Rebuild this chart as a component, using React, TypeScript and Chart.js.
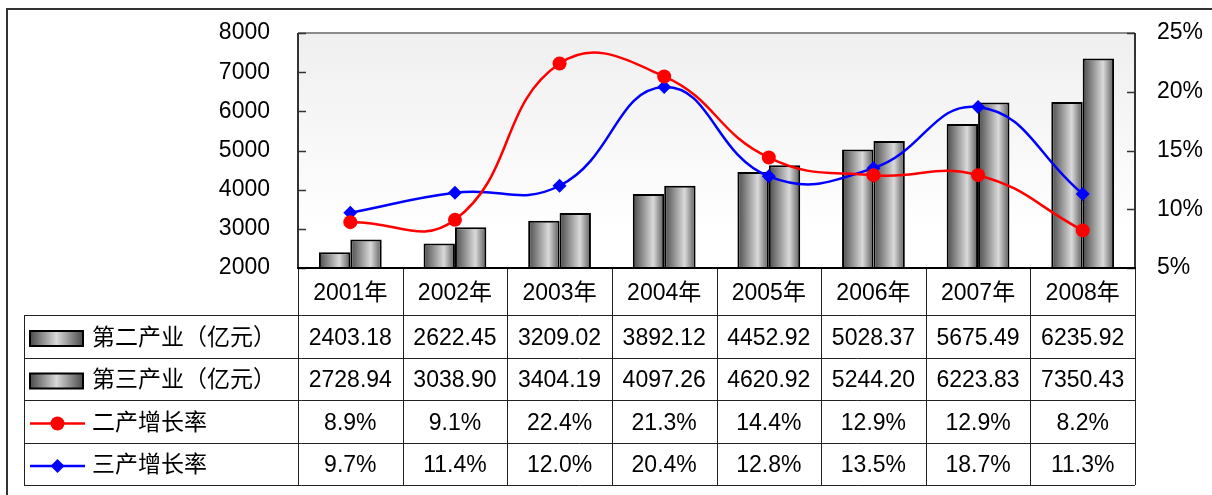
import React, { useEffect, useRef } from "react";
import { Chart, registerables } from "chart.js";

Chart.register(...registerables);

const years = ["2001年", "2002年", "2003年", "2004年", "2005年", "2006年", "2007年", "2008年"];
const secondIndustry = [2403.18, 2622.45, 3209.02, 3892.12, 4452.92, 5028.37, 5675.49, 6235.92];
const thirdIndustry = [2728.94, 3038.9, 3404.19, 4097.26, 4620.92, 5244.2, 6223.83, 7350.43];
const secondGrowth = [8.9, 9.1, 22.4, 21.3, 14.4, 12.9, 12.9, 8.2];
const thirdGrowth = [9.7, 11.4, 12.0, 20.4, 12.8, 13.5, 18.7, 11.3];
const leftTicks = [2000, 3000, 4000, 5000, 6000, 7000, 8000];
const rightTicks = [5, 10, 15, 20, 25];
const seriesNames = ["第二产业（亿元）", "第三产业（亿元）", "二产增长率", "三产增长率"];

const FONT = '"Liberation Sans", Arial, "Noto Sans CJK SC", sans-serif';
const CAT_PCT = 0.6;
const ROW_LINES = [268, 315, 358, 400, 443, 485];
const TABLE_LEFT = 24;

function barGradient(ctx: any) {
  const chart = ctx.chart;
  const area = chart.chartArea;
  if (!area || ctx.type !== "data" || !chart.scales.x) return "#999999";
  const center = chart.scales.x.getPixelForValue(ctx.dataIndex);
  const catW = (area.right - area.left) / years.length;
  const bw = (catW * CAT_PCT) / 2;
  const left = ctx.datasetIndex === 0 ? center - bw : center;
  const g = chart.ctx.createLinearGradient(left, 0, left + bw, 0);
  g.addColorStop(0, "#4a4a4a");
  g.addColorStop(0.65, "#dadada");
  g.addColorStop(1, "#5a5a5a");
  return g;
}

const bgPlugin = {
  id: "plotBg",
  beforeDatasetsDraw(chart: any) {
    const { ctx, chartArea: a } = chart;
    ctx.save();
    const g = ctx.createLinearGradient(0, a.top, 0, a.bottom);
    g.addColorStop(0, "#efefef");
    g.addColorStop(0.85, "#ffffff");
    g.addColorStop(1, "#ffffff");
    ctx.fillStyle = g;
    ctx.fillRect(a.left, a.top, a.right - a.left, a.bottom - a.top);
    ctx.restore();
  },
};

function drawBarSymbol(ctx: CanvasRenderingContext2D, x: number, y: number) {
  const w = 53;
  const h = 15;
  const g = ctx.createLinearGradient(x, 0, x + w, 0);
  g.addColorStop(0, "#4a4a4a");
  g.addColorStop(0.5, "#d8d8d8");
  g.addColorStop(1, "#4a4a4a");
  ctx.fillStyle = g;
  ctx.fillRect(x, y - h / 2, w, h);
  ctx.strokeStyle = "#000";
  ctx.lineWidth = 2;
  ctx.strokeRect(x, y - h / 2, w, h);
}

function drawLineSymbol(ctx: CanvasRenderingContext2D, x: number, y: number, color: string, diamond: boolean) {
  ctx.strokeStyle = color;
  ctx.lineWidth = 2.5;
  ctx.beginPath();
  ctx.moveTo(x, y);
  ctx.lineTo(x + 55, y);
  ctx.stroke();
  ctx.fillStyle = color;
  const cx = x + 27.5;
  ctx.beginPath();
  if (diamond) {
    ctx.moveTo(cx, y - 7);
    ctx.lineTo(cx + 7, y);
    ctx.lineTo(cx, y + 7);
    ctx.lineTo(cx - 7, y);
    ctx.closePath();
  } else {
    ctx.arc(cx, y, 7, 0, Math.PI * 2);
  }
  ctx.fill();
}

const tablePlugin = {
  id: "dataTable",
  afterDraw(chart: any) {
    const { ctx, chartArea: a } = chart;
    const xs = chart.scales.x;
    const yl = chart.scales.y;
    const yr = chart.scales.y1;
    const n = years.length;
    const catW = (a.right - a.left) / n;
    ctx.save();

    // plot frame
    ctx.strokeStyle = "#8c8c8c";
    ctx.lineWidth = 2;
    ctx.beginPath();
    ctx.moveTo(a.left, a.top);
    ctx.lineTo(a.right, a.top);
    ctx.stroke();
    ctx.strokeStyle = "#333";
    ctx.beginPath();
    ctx.moveTo(a.left, a.top);
    ctx.lineTo(a.left, a.bottom);
    ctx.moveTo(a.right, a.top);
    ctx.lineTo(a.right, a.bottom);
    ctx.stroke();
    // ticks
    ctx.lineWidth = 1.5;
    ctx.beginPath();
    leftTicks.forEach((v) => {
      const y = Math.round(yl.getPixelForValue(v)) + 0.5;
      ctx.moveTo(a.left, y);
      ctx.lineTo(a.left + 8, y);
    });
    rightTicks.forEach((v) => {
      const y = Math.round(yr.getPixelForValue(v)) + 0.5;
      ctx.moveTo(a.right - 8, y);
      ctx.lineTo(a.right, y);
    });
    ctx.stroke();

    // table grid
    ctx.strokeStyle = "#222";
    ctx.lineWidth = 1;
    ctx.beginPath();
    for (let r = 1; r < ROW_LINES.length; r++) {
      const y = ROW_LINES[r] + 0.5;
      ctx.moveTo(TABLE_LEFT, y);
      ctx.lineTo(a.right, y);
    }
    ctx.moveTo(TABLE_LEFT + 0.5, ROW_LINES[1]);
    ctx.lineTo(TABLE_LEFT + 0.5, ROW_LINES[ROW_LINES.length - 1]);
    for (let i = 0; i <= n; i++) {
      const x = Math.round(a.left + i * catW) + 0.5;
      ctx.moveTo(x, ROW_LINES[0]);
      ctx.lineTo(x, ROW_LINES[ROW_LINES.length - 1]);
    }
    ctx.stroke();

    // x axis line
    ctx.strokeStyle = "#000";
    ctx.lineWidth = 2;
    ctx.beginPath();
    ctx.moveTo(a.left - 1, a.bottom);
    ctx.lineTo(a.right + 1, a.bottom);
    ctx.stroke();

    // texts
    ctx.fillStyle = "#000";
    ctx.font = `23px ${FONT}`;
    ctx.textBaseline = "middle";
    ctx.textAlign = "center";
    const rowCenter = (r: number) => (ROW_LINES[r] + ROW_LINES[r + 1]) / 2 + 2;
    years.forEach((yr2, i) => {
      ctx.fillText(yr2, xs.getPixelForValue(i), rowCenter(0));
    });
    const rows = [
      secondIndustry.map((v) => v.toFixed(2)),
      thirdIndustry.map((v) => v.toFixed(2)),
      secondGrowth.map((v) => v.toFixed(1) + "%"),
      thirdGrowth.map((v) => v.toFixed(1) + "%"),
    ];
    rows.forEach((vals, r) => {
      const cy = rowCenter(r + 1);
      ctx.textAlign = "center";
      vals.forEach((s, i) => ctx.fillText(s, xs.getPixelForValue(i), cy));
      ctx.textAlign = "left";
      ctx.fillText(seriesNames[r], 92, cy);
      if (r < 2) drawBarSymbol(ctx, 30, cy);
      else drawLineSymbol(ctx, 30, cy, r === 2 ? "#ff0000" : "#0000ff", r === 3);
      ctx.fillStyle = "#000";
    });

    // outer frame
    ctx.strokeStyle = "#333";
    ctx.lineWidth = 2;
    ctx.beginPath();
    ctx.moveTo(7, 496);
    ctx.lineTo(7, 9);
    ctx.lineTo(1213, 9);
    ctx.stroke();
    ctx.restore();
  },
};

export default function App() {
  const ref = useRef<HTMLCanvasElement | null>(null);
  useEffect(() => {
    if (!ref.current) return;
    const chart = new Chart(ref.current, {
      type: "bar",
      data: {
        labels: years,
        datasets: [
          {
            type: "bar",
            label: seriesNames[0],
            data: secondIndustry,
            yAxisID: "y",
            backgroundColor: barGradient,
            borderColor: "#000",
            borderWidth: 2,
            barPercentage: 1,
            categoryPercentage: CAT_PCT,
            order: 1,
          },
          {
            type: "bar",
            label: seriesNames[1],
            data: thirdIndustry,
            yAxisID: "y",
            backgroundColor: barGradient,
            borderColor: "#000",
            borderWidth: 2,
            barPercentage: 1,
            categoryPercentage: CAT_PCT,
            order: 1,
          },
          {
            type: "line",
            label: seriesNames[2],
            data: secondGrowth,
            yAxisID: "y1",
            borderColor: "#ff0000",
            backgroundColor: "#ff0000",
            borderWidth: 2.5,
            pointStyle: "circle",
            pointRadius: 7,
            pointBorderWidth: 0,
            tension: 0.45,
            order: 0,
          },
          {
            type: "line",
            label: seriesNames[3],
            data: thirdGrowth,
            yAxisID: "y1",
            borderColor: "#0000ff",
            backgroundColor: "#0000ff",
            borderWidth: 2.5,
            pointStyle: "rectRot",
            pointRadius: 7,
            pointBorderWidth: 0,
            tension: 0.45,
            order: 0,
          },
        ],
      },
      options: {
        responsive: false,
        animation: false,
        layout: { padding: { left: 0, right: 0, top: 33, bottom: 227 } },
        plugins: { legend: { display: false }, tooltip: { enabled: false }, title: { display: false } },
        scales: {
          x: {
            display: false,
            offset: true,
            afterFit: (s: any) => {
              s.paddingTop = 0;
              s.paddingBottom = 0;
              s.paddingLeft = 0;
              s.paddingRight = 0;
            },
          },
          y: {
            position: "left",
            min: 2000,
            max: 8000,
            grid: { display: false, drawTicks: false },
            border: { display: false },
            ticks: {
              stepSize: 1000,
              padding: 28,
              color: "#000",
              font: { family: FONT, size: 23 },
              callback: (v: any) => String(v),
            },
            afterFit: (s: any) => {
              s.width = 298;
              s.paddingTop = 0;
              s.paddingBottom = 0;
            },
          },
          y1: {
            position: "right",
            min: 5,
            max: 25,
            grid: { display: false, drawTicks: false },
            border: { display: false },
            ticks: {
              stepSize: 5,
              padding: 22,
              color: "#000",
              font: { family: FONT, size: 23 },
              callback: (v: any) => v + "%",
            },
            afterFit: (s: any) => {
              s.width = 77;
              s.paddingTop = 0;
              s.paddingBottom = 0;
            },
          },
        },
      },
      plugins: [bgPlugin, tablePlugin],
    });
    return () => chart.destroy();
  }, []);
  return (
    <div style={{ position: "absolute", left: 0, top: 0, width: 1212, height: 495, background: "#fff" }}>
      <canvas ref={ref} width={1212} height={495} style={{ display: "block" }} />
    </div>
  );
}
